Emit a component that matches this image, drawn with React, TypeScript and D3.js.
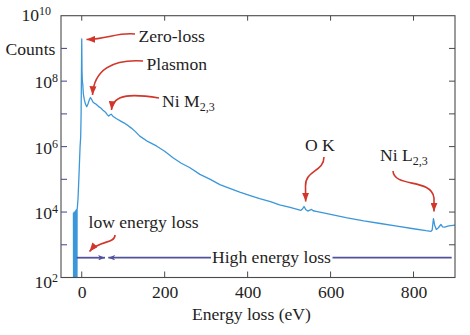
import React from "react";
import * as d3 from "d3";

// ---- data ----
const energy: number[] = [
  -20, -19.6, -19.2, -18.8, -18.4, -18, -17.6, -17.2, -16.8, -16.4, -16, -15.6, -15.2, -14.8, -14.4, -14, -13.6, -13.2, -12.8, -12.4, -12, -11.6, -11.2, -10.8,
  -9, -7, -5.5, -4, -2.5, -1.5, -0.5, 0, 0.7, 1.5, 2.5, 4, 6, 9, 12, 15, 18, 21, 24, 27, 30, 34, 40, 46, 52, 58, 62, 65, 68, 71, 75,
  84, 95, 105, 112, 118, 121, 130, 140, 160, 180, 200, 220, 240, 260, 285, 310, 333, 360, 381, 410, 429, 455, 477, 500, 520, 528,
  532, 536, 540, 545, 550, 554, 558, 565, 580, 600, 637, 680, 720, 760, 800, 830, 842, 845, 848, 851, 855, 860, 866, 870, 875, 885, 900,
];
const logCounts: number[] = [
  3.98, 1.0, 3.95, 1.0, 4.0, 1.0, 3.9, 1.0, 4.0, 1.0, 4.0, 1.0, 4.02, 1.0, 4.05, 1.0, 4.05, 1.0, 4.06, 1.0, 4.08, 1.2, 4.1, 4.1,
  4.4, 5.0, 5.5, 6.0, 6.3, 7.0, 8.5, 9.29, 8.3, 8.0, 7.9, 7.6, 7.45, 7.3, 7.22, 7.3, 7.42, 7.5, 7.44, 7.36, 7.33, 7.3, 7.23, 7.18, 7.1, 7.04, 6.97, 6.93, 6.97, 6.99, 6.93,
  6.85, 6.77, 6.7, 6.64, 6.58, 6.55, 6.45, 6.32, 6.15, 6.02, 5.86, 5.66, 5.49, 5.36, 5.15, 5.0, 4.84, 4.71, 4.61, 4.49, 4.41, 4.32, 4.22, 4.15, 4.08, 4.05,
  4.09, 4.17, 4.08, 4.03, 4.06, 4.08, 4.04, 4.02, 3.98, 3.93, 3.83, 3.73, 3.65, 3.57, 3.49, 3.43, 3.41, 3.45, 3.8, 3.6, 3.47, 3.52, 3.62, 3.55, 3.54, 3.58, 3.6,
];
const xTicks: number[] = [0, 200, 400, 600, 800];
const yTickExps: number[] = [3, 4, 5, 6, 7, 8, 9];
const yLabelExps: number[] = [2, 4, 6, 8, 10];
const xTitle = "Energy loss (eV)";
const yTitle = "Counts";

const FONT = "Liberation Serif";
const FS = 17.6;
const BLUE = "#3b97d9";
const RED = "#d2352a";
const PURPLE = "#52529c";
const FRAME = "#4a4a4a";
const TXT = "#1e1e1e";

export default function App() {
  const left = 61, right = 455, top = 15.7, bottom = 277.5;
  const x = d3.scaleLinear().domain([-50, 900]).range([left, right]);
  const y = d3.scaleLog().domain([1e2, 1e10]).range([bottom, top]);
  const pts: [number, number][] = energy.map((e, i) => [e, Math.pow(10, logCounts[i])]);
  const line = d3.line<[number, number]>().x((d) => x(d[0])).y((d) => y(d[1]));

  const yLabelPos: Record<number, { xr: number; dy: number }> = {
    10: { xr: 51, dy: 5 },
    8: { xr: 58, dy: 7 },
    6: { xr: 58, dy: 7 },
    4: { xr: 58, dy: 7 },
    2: { xr: 58, dy: 10.5 },
  };

  return (
    <svg width={470} height={335} style={{ position: "absolute", left: 0, top: 0, background: "#fff" }}>
      <defs>
        <clipPath id="plot">
          <rect x={left} y={top} width={right - left} height={bottom - top} />
        </clipPath>
        <marker id="redHead" viewBox="0 0 10 8" refX="10" refY="4" markerWidth="9" markerHeight="7" markerUnits="userSpaceOnUse" orient="auto">
          <path d="M0,0 L10,4 L0,8 Z" fill={RED} />
        </marker>
        <marker id="purpHead" viewBox="0 0 10 8" refX="10" refY="4" markerWidth="7" markerHeight="5.5" markerUnits="userSpaceOnUse" orient="auto">
          <path d="M0,0 L10,4 L0,8 L2.5,4 Z" fill={PURPLE} />
        </marker>
      </defs>

      {/* spectrum */}
      <path d={line(pts) || ""} fill="none" stroke={BLUE} strokeWidth={1.3} clipPath="url(#plot)" strokeLinejoin="round" />

      {/* frame */}
      <rect x={left} y={top} width={right - left} height={bottom - top} fill="none" stroke={FRAME} strokeWidth={1.1} />

      {/* x ticks */}
      {xTicks.map((t) => (
        <g key={"xt" + t}>
          <line x1={x(t)} x2={x(t)} y1={bottom} y2={bottom - 6} stroke={FRAME} strokeWidth={1} />
          <line x1={x(t)} x2={x(t)} y1={top} y2={top + 5} stroke={FRAME} strokeWidth={1} />
          <text x={x(t) + 0.5} y={297.5} textAnchor="middle" fontSize={FS} fill={TXT} fontFamily={FONT}>
            {t}
          </text>
        </g>
      ))}

      {/* y ticks */}
      {yTickExps.map((e) => {
        const yy = y(Math.pow(10, e));
        return (
          <g key={"yt" + e}>
            <line x1={left} x2={left + 6} y1={yy} y2={yy} stroke={PURPLE} strokeWidth={1.1} />
            <line x1={right} x2={right - 6} y1={yy} y2={yy} stroke={FRAME} strokeWidth={1} />
          </g>
        );
      })}
      {yLabelExps.map((e) => {
        const yy = y(Math.pow(10, e));
        const p = yLabelPos[e];
        return (
          <text key={"yl" + e} x={p.xr} y={yy + p.dy} textAnchor="end" fontSize={FS} fill={TXT} fontFamily={FONT}>
            10
            <tspan fontSize={12} dy={-6}>
              {e}
            </tspan>
          </text>
        );
      })}

      {/* axis titles */}
      <text x={5.5} y={54.5} fontSize={FS} fill={TXT} fontFamily={FONT}>
        {yTitle}
      </text>
      <text x={192} y={319.5} fontSize={FS} fill={TXT} fontFamily={FONT}>
        {xTitle}
      </text>

      {/* annotations */}
      <g fill="none" stroke={RED} strokeWidth={1.6}>
        <path d="M135,34 C118,32 108,39 86.5,39.5" markerEnd="url(#redHead)" />
        <path d="M143,61 C112,59 94,70 92.5,95" markerEnd="url(#redHead)" />
        <path d="M159,98 C134,94 113,93 111.5,110" markerEnd="url(#redHead)" />
        <path d="M324,157 C324,172 305,170 305.5,186 L305.7,201.5" markerEnd="url(#redHead)" />
        <path d="M393,171 C394,188 432,178 434,198 L434,211.5" markerEnd="url(#redHead)" />
        <path d="M115,235 C115,244 99,240 89.5,251.5" markerEnd="url(#redHead)" />
      </g>
      <g fontSize={FS} fill={TXT} fontFamily={FONT}>
        <text x={138.5} y={41.5}>Zero-loss</text>
        <text x={146.5} y={69.5}>Plasmon</text>
        <text x={162} y={106.5}>
          Ni M<tspan fontSize={12} dy={4}>2,3</tspan>
        </text>
        <text x={305} y={151}>O K</text>
        <text x={380} y={161}>
          Ni L<tspan fontSize={12} dy={4}>2,3</tspan>
        </text>
        <text x={88.5} y={228.3}>low energy loss</text>
        <text x={212} y={262.5}>High energy loss</text>
      </g>

      {/* low / high energy loss ranges */}
      <g stroke={PURPLE} strokeWidth={1.8} fill="none">
        <line x1={76.7} x2={105} y1={257.7} y2={257.7} markerEnd="url(#purpHead)" />
        <line x1={211} x2={108.3} y1={257.7} y2={257.7} markerEnd="url(#purpHead)" />
        <line x1={332.5} x2={451.7} y1={257.7} y2={257.7} />
      </g>
    </svg>
  );
}
